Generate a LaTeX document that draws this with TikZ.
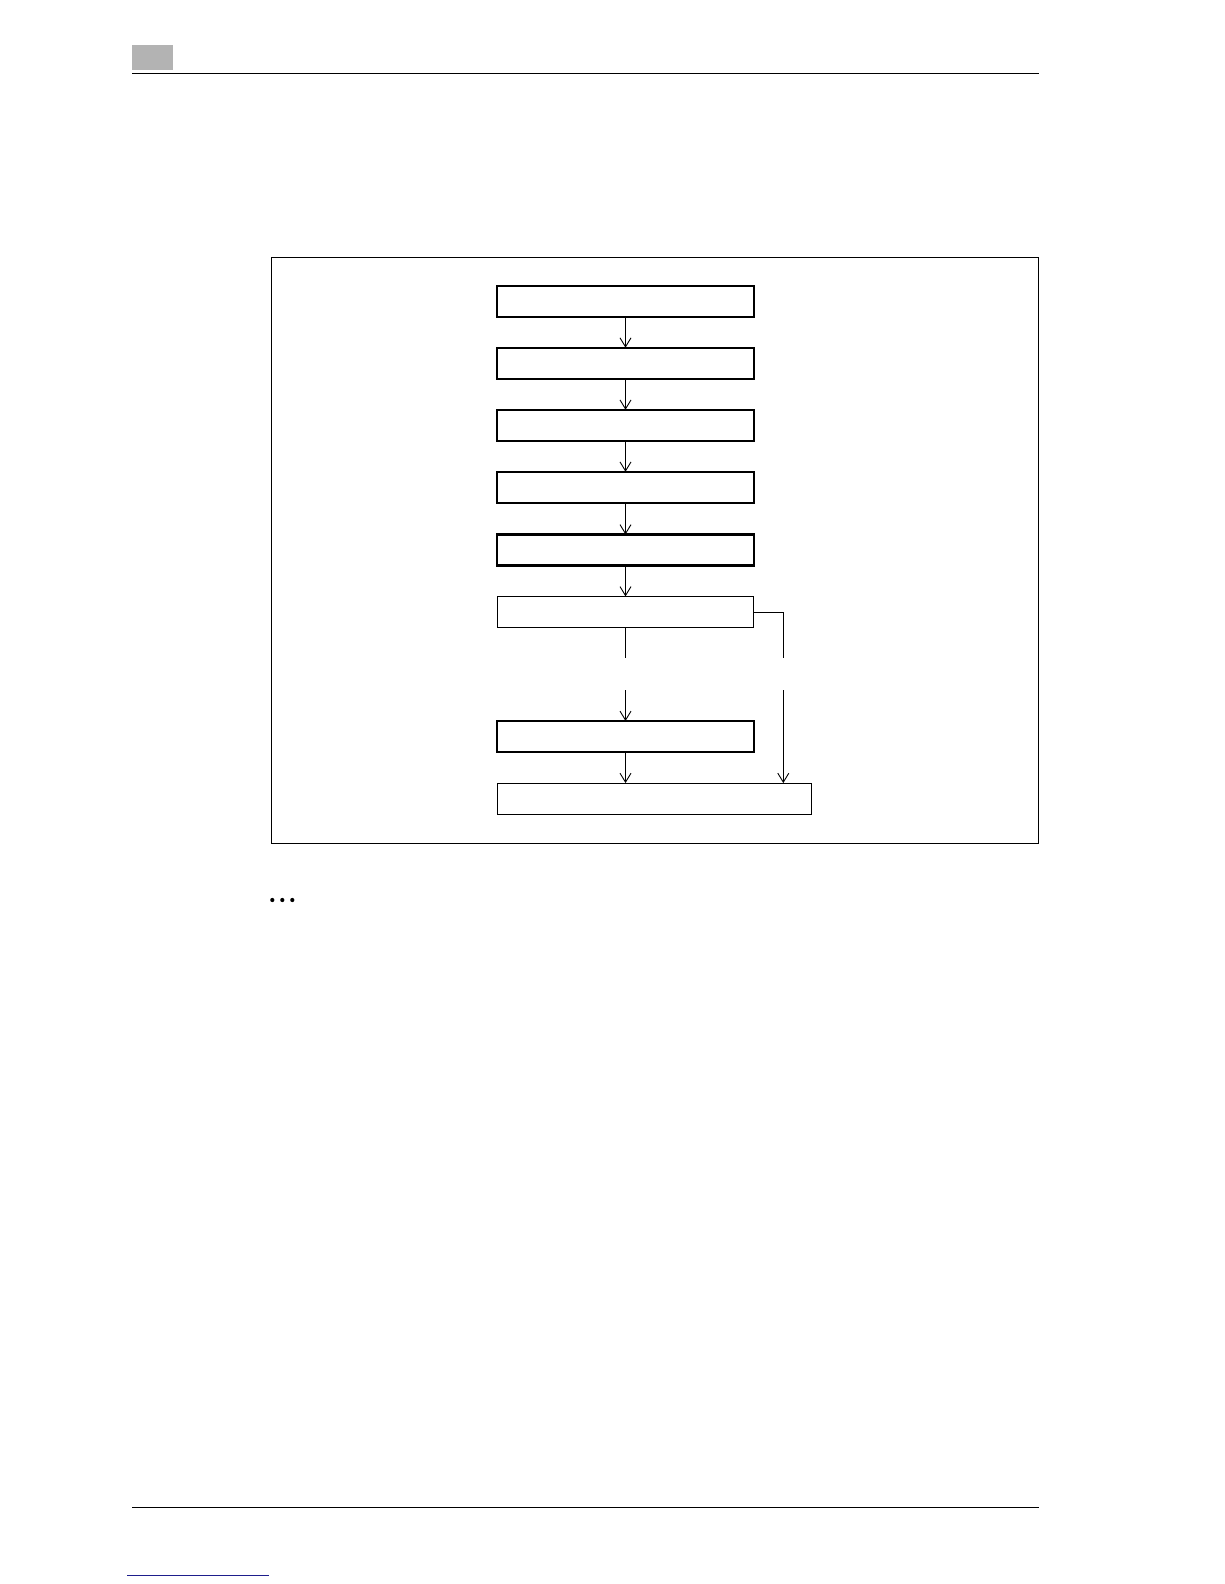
\documentclass[tikz,border=0pt]{standalone}
\usetikzlibrary{arrows.meta}
\definecolor{hdrgray}{RGB}{179,179,179}
\definecolor{linknavy}{RGB}{30,30,140}
\begin{document}
\begin{tikzpicture}[x=1pt,y=-1pt,
  thickbox/.style={draw, line width=1.7pt, inner sep=0pt, outer sep=0pt, minimum width=257pt, minimum height=31pt},
  thinbox/.style={draw, line width=1pt, inner sep=0pt, outer sep=0pt, minimum height=31.5pt},
  conn/.style={line width=0.9pt},
  arr/.style={conn, -{Straight Barb[length=9pt,width=11pt,line width=0.9pt]}},
  rule/.style={line width=1.4pt}]
\useasboundingbox (0,0) rectangle (1224,1584);
% header
\fill[hdrgray] (132,45) rectangle (173,70);
\coordinate (hl) at (132,73.3);
\coordinate (hr) at (1039,73.3);
\draw[rule] (hl) -- (hr);
% frame
\node[draw, line width=1pt, inner sep=0pt, minimum width=767pt, minimum height=586pt] (frame) at (654.5,550) {};
% boxes
\node[thickbox] (b1) at (625.5,301.5) {};
\node[thickbox] (b2) at (625.5,363.2) {};
\node[thickbox] (b3) at (625.5,425.3) {};
\node[thickbox] (b4) at (625.5,487.3) {};
\node[thickbox, line width=2.2pt] (b5) at (625.5,550) {};
\node[thinbox, minimum width=256.4pt] (b6) at (625.5,612.2) {};
\node[thickbox] (b7) at (625.5,736.5) {};
\node[thinbox, minimum width=314.4pt] (b8) at (654.5,798.8) {};
% connectors
\draw[arr] (b1) -- (b2);
\draw[arr] (b2) -- (b3);
\draw[arr] (b3) -- (b4);
\draw[arr] (b4) -- (b5);
\draw[arr] (b5) -- (b6);
\coordinate (g1) at (625.5,658.3);
\coordinate (g2) at (625.5,690);
\coordinate (g3) at (783.3,658.3);
\coordinate (g4) at (783.3,690);
\draw[conn] (b6.south) -- (g1);
\draw[arr] (g2) -- (b7.north);
\draw[conn] (b6.east) -| (g3);
\draw[arr] (g4) -- (g4 |- b8.north);
\draw[arr] (b7.south) -- (b7.south |- b8.north);
% dots
\fill (272.3,900) circle (2.1);
\fill (282.3,900) circle (2.1);
\fill (292.3,900) circle (2.1);
% footer
\coordinate (fl) at (132,1507.3);
\coordinate (fr) at (1039,1507.3);
\draw[rule] (fl) -- (fr);
\coordinate (ll) at (127,1575);
\coordinate (lr) at (269,1575);
\draw[linknavy, line width=1pt] (ll) -- (lr);
\end{tikzpicture}
\end{document}
